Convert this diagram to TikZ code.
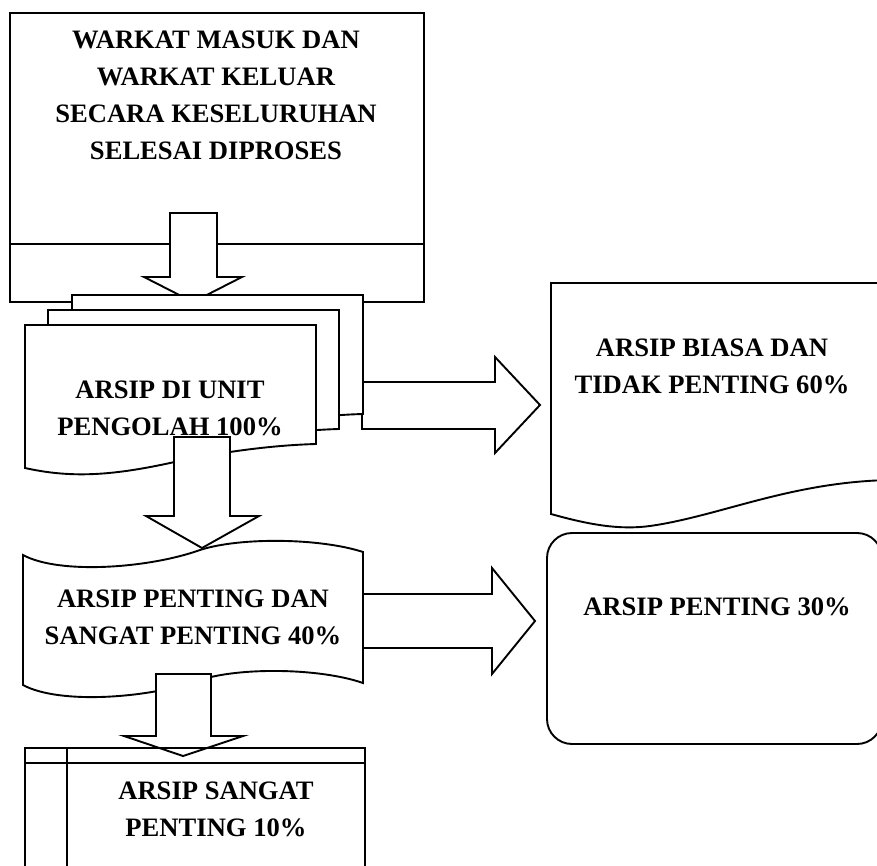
\documentclass[tikz,border=0pt]{standalone}
\usepackage{fontspec}
\setmainfont{Liberation Serif}
\begin{document}
\begin{tikzpicture}[x=1pt,y=-1pt,
  shp/.style={draw=black,line width=1.9pt,fill=white,line join=miter},
  ln/.style={draw=black,line width=1.9pt},
  lbl/.style={font=\fontsize{26.6}{37}\selectfont\bfseries,align=center,inner sep=0pt,text=black}]
\useasboundingbox (0,0) rectangle (877,866);
\clip (0,0) rectangle (877,866);
% top box
\draw[shp] (10,13) rectangle (424,302);
\draw[ln] (10,244) -- (424,244);
\node[lbl] (warkat) at (216,95) {WARKAT MASUK DAN\\WARKAT KELUAR\\SECARA KESELURUHAN\\SELESAI DIPROSES};
% arrow 1 down
\draw[shp] (170,213) -- (217,213) -- (217,277) -- (242,277) -- (193,302) -- (144,277) -- (170,277) -- cycle;
% right arrow 1
\draw[shp] (362,382) -- (495,382) -- (495,357) -- (540,405) -- (495,453) -- (495,429) -- (362,429) -- cycle;
% multi document
\foreach \dx/\dy in {47/-30, 23/-15, 0/0}{
  \begin{scope}[shift={(\dx,\dy)}]
    \draw[shp] (25,325) -- (316,325) -- (316,444) .. controls (280,445) and (230,450) .. (170,463)
      .. controls (110,476) and (70,478) .. (25,468) -- cycle;
  \end{scope}
}
\node[lbl] (unit) at (170,408) {ARSIP DI UNIT\\PENGOLAH 100\%};
% arrow 2 down
\draw[shp] (174,437) -- (230,437) -- (230,516) -- (259,516) -- (202,548) -- (146,516) -- (174,516) -- cycle;
% punched tape
\draw[shp] (23,555) .. controls (60,575) and (150,568) .. (200,550) .. controls (240,537) and (320,538) .. (363,552)
  -- (363,683) .. controls (320,668) and (240,667) .. (200,680) .. controls (150,698) and (60,705) .. (23,685) -- cycle;
\node[lbl] (penting) at (193,617) {ARSIP PENTING DAN\\SANGAT PENTING 40\%};
% right arrow 2
\draw[shp] (363,594) -- (492,594) -- (492,568) -- (535,621) -- (492,674) -- (492,648) -- (363,648) -- cycle;
% arrow 3 down
\draw[shp] (156,674) -- (211,674) -- (211,736) -- (243,736) -- (183,756) -- (124,736) -- (156,736) -- cycle;
% internal storage box
\draw[ln] (25,748) rectangle (365,880);
\draw[ln] (25,763) -- (365,763);
\draw[ln] (67,748) -- (67,880);
\node[lbl] (sangat) at (216,809) {ARSIP SANGAT\\PENTING 10\%};
% right document
\draw[shp] (890,283) -- (551,283) -- (551,514) .. controls (590,525) and (620,530) .. (650,526)
  .. controls (720,516) and (790,482) .. (890,480) -- cycle;
\node[lbl] (biasa) at (712,366) {ARSIP BIASA DAN\\TIDAK PENTING 60\%};
% rounded box
\draw[shp,rounded corners=25pt] (547,533) rectangle (882,744);
\node[lbl] (p30) at (717,607) {ARSIP PENTING 30\%};
\end{tikzpicture}
\end{document}
